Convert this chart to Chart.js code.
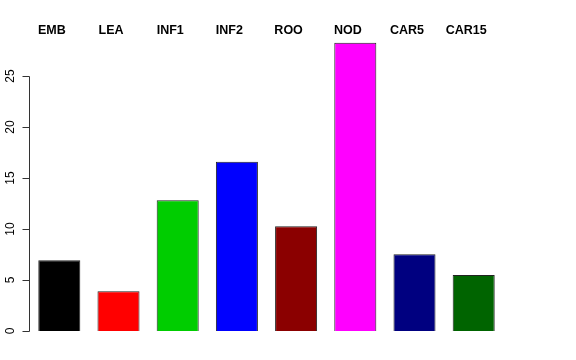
<!DOCTYPE html>
<html>
<head>
<meta charset="utf-8">
<script src="https://cdn.jsdelivr.net/npm/chart.js@4/dist/chart.umd.min.js"></script>
<style>
html,body{margin:0;padding:0;background:#fff;}
#wrap{width:576px;height:360px;}
</style>
</head>
<body>
<div id="wrap"><canvas id="c" width="576" height="360"></canvas></div>
<script>
const categories = ['EMB','LEA','INF1','INF2','ROO','NOD','CAR5','CAR15'];
const values = [6.93, 3.89, 12.83, 16.6, 10.26, 28.27, 7.52, 5.49];
const barColors = ['#000000','#FF0000','#00CD00','#0000FF','#8B0000','#FF00FF','#000080','#006400'];
const yTickValues = [0, 5, 10, 15, 20, 25];
const yTickLabels = ['0','5','10','15','20','25'];

const axisPlugin = {
  id: 'rAxis',
  afterDraw(chart) {
    const ctx = chart.ctx;
    const y = chart.scales.y;
    const x0 = chart.chartArea.left - 1;
    ctx.save();
    ctx.strokeStyle = '#333';
    ctx.lineWidth = 1;
    ctx.beginPath();
    const top = Math.round(y.getPixelForValue(yTickValues[yTickValues.length-1])) + 0.5;
    const bot = Math.round(y.getPixelForValue(yTickValues[0])) + 0.5;
    const xa = Math.round(x0) + 0.5;
    ctx.moveTo(xa, top); ctx.lineTo(xa, bot);
    yTickValues.forEach(v => {
      const py = Math.round(y.getPixelForValue(v)) + 0.5;
      ctx.moveTo(xa, py); ctx.lineTo(xa - 7, py);
    });
    ctx.stroke();
    ctx.fillStyle = '#000';
    ctx.font = '12px "Liberation Sans", Arial, sans-serif';
    ctx.textAlign = 'center';
    ctx.textBaseline = 'middle';
    yTickValues.forEach((v, i) => {
      const py = y.getPixelForValue(v);
      ctx.save();
      ctx.translate(11, py);
      ctx.rotate(-Math.PI / 2);
      ctx.fillText(yTickLabels[i], 0, 0);
      ctx.restore();
    });
    ctx.restore();
  }
};

new Chart(document.getElementById('c'), {
  type: 'bar',
  data: {
    labels: categories,
    datasets: [{
      data: values,
      backgroundColor: barColors,
      borderColor: '#222',
      borderWidth: 1,
      barPercentage: 1,
      categoryPercentage: 0.71
    }]
  },
  options: {
    responsive: false,
    animation: false,
    events: [],
    layout: { padding: { left: 0, right: 72.7, top: 0, bottom: 29 } },
    plugins: { legend: { display: false }, tooltip: { enabled: false } },
    scales: {
      x: {
        position: 'top',
        grid: { display: false },
        border: { display: false },
        ticks: {
          color: '#000',
          font: { family: '"Liberation Sans", Arial, sans-serif', size: 12.5, weight: 'bold' },
          padding: -6,
          labelOffset: -7.5,
          maxRotation: 0, minRotation: 0
        },
        afterFit(s) { s.height = 40; }
      },
      y: {
        min: 0,
        max: 28.53,
        grid: { display: false },
        border: { display: false },
        ticks: { display: false },
        afterBuildTicks(s) { s.ticks = yTickValues.map(v => ({ value: v })); },
        afterFit(s) { s.width = 29.7; }
      }
    }
  },
  plugins: [axisPlugin]
});
</script>
</body>
</html>
